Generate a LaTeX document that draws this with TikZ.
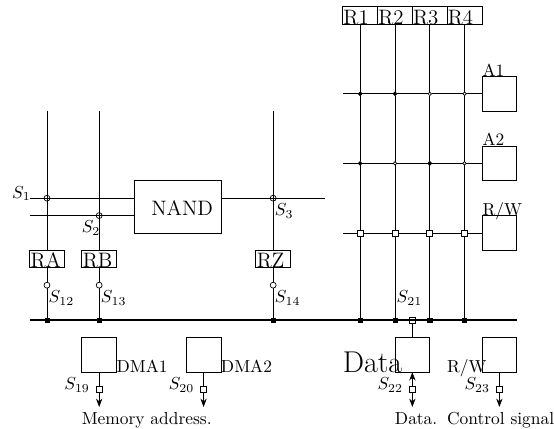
\documentclass[tikz,border=0pt]{standalone}
\usepackage{amsmath}
\usepackage{tikz}
\usetikzlibrary{arrows, arrows.meta}
\newcommand{\myunit}{20pt}
\tikzset{
  box/.style={draw, minimum size=\myunit, inner sep=0pt, outer sep=0pt},
  regbox/.style={draw, minimum width=\myunit, minimum height=0.5*\myunit, inner sep=0pt, outer sep=0pt},
  lab/.style={anchor=base west, inner sep=0pt, outer sep=0pt},
  biglab/.style={lab, font=\large},
  ring/.style={draw, circle, fill=white, minimum size=3.4pt, inner sep=0pt, outer sep=0pt},
  crossring/.style={draw, circle, minimum size=3.4pt, inner sep=0pt, outer sep=0pt},
  blackdot/.style={draw, circle, fill=black, minimum size=2.2pt, inner sep=0pt, outer sep=0pt},
  whitedot/.style={draw, circle, fill=white, minimum size=2pt, inner sep=0pt, outer sep=0pt},
  whitesq/.style={draw, fill=white, minimum size=3.4pt, inner sep=0pt, outer sep=0pt},
  opensq/.style={draw, minimum size=3.4pt, inner sep=0pt, outer sep=0pt},
  bussq/.style={draw, fill=black, minimum size=2.4pt, inner sep=0pt, outer sep=0pt},
  bus/.style={line width=1.4pt},
  tip/.style={-{Stealth[length=4.8pt, width=3.6pt]}},
  backtip/.style={{Stealth[length=4.8pt, width=3.6pt]}-}
}

\begin{document}
\begin{tikzpicture}[x=\myunit, y=\myunit]
  \useasboundingbox (-1.35,-3.13) rectangle (14.57,9.195);

  % Coordinates
  \coordinate (topA) at (0, 6);
  \coordinate (topB) at (1.5, 6);
  \coordinate (topZ) at (6.5, 6);
  \coordinate (inA) at (-0.5, 3.5);
  \coordinate (inB) at (-0.5, 3);
  \coordinate (outN) at (8, 3.5);
  \coordinate (busL) at (-0.5, 0);
  \coordinate (busR) at (13.5, 0);
  \coordinate (row1) at (8.5, 6.5);
  \coordinate (row2) at (8.5, 4.5);
  \coordinate (row3) at (8.5, 2.5);
  \coordinate (endM1) at (1.5, -2.5);
  \coordinate (endM2) at (4.5, -2.5);
  \coordinate (endD) at (10.5, -2.5);
  \coordinate (endC) at (13, -2.5);

  % Boxes
  \node[box] (NAND) at (3.75, 3.25) [minimum width=2.5*\myunit, minimum height=1.5*\myunit] {};
  \node[regbox] (RA) at (0, 1.75) {};
  \node[regbox] (RB) at (1.5, 1.75) {};
  \node[regbox] (RZ) at (6.5, 1.75) {};
  \node[regbox] (R1) at (9, 8.75) {};
  \node[regbox] (R2) at (10, 8.75) {};
  \node[regbox] (R3) at (11, 8.75) {};
  \node[regbox] (R4) at (12, 8.75) {};
  \node[box] (A1) at (13, 6.5) {};
  \node[box] (A2) at (13, 4.5) {};
  \node[box] (RW) at (13, 2.5) {};
  \node[box] (DMA1) at (1.5, -1) {};
  \node[box] (DMA2) at (4.5, -1) {};
  \node[box] (DATA) at (10.5, -1) {};
  \node[box] (CTRL) at (13, -1) {};

  % Switches
  \node[crossring] (c1) at (0, 3.5) {};
  \node[crossring] (c2) at (1.5, 3) {};
  \node[crossring] (c3) at (6.5, 3.5) {};
  \node[ring] (c12) at (0, 1) {};
  \node[ring] (c13) at (1.5, 1) {};
  \node[ring] (c14) at (6.5, 1) {};
  \node[blackdot] (d11) at (R1 |- row1) {};
  \node[blackdot] (d12) at (R2 |- row1) {};
  \node[whitedot] (d13) at (R3 |- row1) {};
  \node[whitedot] (d14) at (R4 |- row1) {};
  \node[blackdot] (d21) at (R1 |- row2) {};
  \node[whitedot] (d22) at (R2 |- row2) {};
  \node[blackdot] (d23) at (R3 |- row2) {};
  \node[whitedot] (d24) at (R4 |- row2) {};
  \node[whitesq] (d31) at (R1 |- row3) {};
  \node[whitesq] (d32) at (R2 |- row3) {};
  \node[whitesq] (d33) at (R3 |- row3) {};
  \node[whitesq] (d34) at (R4 |- row3) {};
  \node[whitesq] (s19) at (1.5, -2) {};
  \node[whitesq] (s20) at (4.5, -2) {};
  \node[whitesq] (s22) at (10.5, -2) {};
  \node[whitesq] (s23) at (13, -2) {};

  % Drawing
  \draw[bus] (busL) -- (busR);
  \node[bussq] (bA) at (RA |- busL) {};
  \node[bussq] (bB) at (RB |- busL) {};
  \node[bussq] (bZ) at (RZ |- busL) {};
  \node[bussq] (b1) at (R1 |- busL) {};
  \node[bussq] (b2) at (R2 |- busL) {};
  \node[bussq] (b3) at (R3 |- busL) {};
  \node[bussq] (b4) at (R4 |- busL) {};
  \node[opensq] (s21) at (10.5, 0) {};

  \draw (topA) -- (RA);
  \draw (topB) -- (RB);
  \draw (topZ) -- (RZ);
  \draw (RA) -- (c12) -- (bA);
  \draw (RB) -- (c13) -- (bB);
  \draw (RZ) -- (c14) -- (bZ);
  \draw (inA) -- (NAND.west |- inA);
  \draw (inB) -- (NAND.west |- inB);
  \draw (NAND.east |- outN) -- (outN);

  \draw (R1) -- (d11) -- (d21) -- (d31) -- (b1);
  \draw (R2) -- (d12) -- (d22) -- (d32) -- (b2);
  \draw (R3) -- (d13) -- (d23) -- (d33) -- (b3);
  \draw (R4) -- (d14) -- (d24) -- (d34) -- (b4);
  \draw (row1) -- (d11) -- (d12) -- (d13) -- (d14) -- (A1);
  \draw (row2) -- (d21) -- (d22) -- (d23) -- (d24) -- (A2);
  \draw (row3) -- (d31) -- (d32) -- (d33) -- (d34) -- (RW);

  \draw (s21) -- (DATA);
  \draw (DMA1) -- (s19);
  \draw (DMA2) -- (s20);
  \draw (CTRL) -- (s23);
  \draw[backtip] (DATA) -- (s22);
  \draw[tip] (s19) -- (endM1);
  \draw[tip] (s20) -- (endM2);
  \draw[tip] (s22) -- (endD);
  \draw[tip] (s23) -- (endC);

  % Labels
  \node[biglab] (tNAND) at (3, 3) {NAND};
  \node[biglab] (tRA) at (-0.47, 1.5) {RA};
  \node[biglab] (tRB) at (1.03, 1.5) {RB};
  \node[biglab] (tRZ) at (6.03, 1.5) {RZ};
  \node[biglab] (tR1) at (8.52, 8.5) {R1};
  \node[biglab] (tR2) at (9.52, 8.5) {R2};
  \node[biglab] (tR3) at (10.52, 8.5) {R3};
  \node[biglab] (tR4) at (11.52, 8.5) {R4};
  \node[lab] (tA1) at (12.52, 7) {A1};
  \node[lab] (tA2) at (12.52, 5) {A2};
  \node[lab] (tRW) at (12.52, 3) {R/W};
  \node[lab] (tS1) at (-1, 3.5) {$S_1$};
  \node[lab] (tS2) at (1, 2.5) {$S_2$};
  \node[lab] (tS3) at (6.55, 3) {$S_3$};
  \node[lab] (tS12) at (0.05, 0.5) {$S_{12}$};
  \node[lab] (tS13) at (1.55, 0.5) {$S_{13}$};
  \node[lab] (tS14) at (6.55, 0.5) {$S_{14}$};
  \node[lab] (tS21) at (10.05, 0.5) {$S_{21}$};
  \node[lab] (tS19) at (0.5, -2) {$S_{19}$};
  \node[lab] (tS20) at (3.5, -2) {$S_{20}$};
  \node[lab] (tS22) at (9.5, -2) {$S_{22}$};
  \node[lab] (tS23) at (12, -2) {$S_{23}$};
  \node[lab] (tDMA1) at (2, -1.5) {DMA1};
  \node[lab] (tDMA2) at (5, -1.5) {DMA2};
  \node[lab, font=\LARGE] (tData) at (8.5, -1.5) {Data};
  \node[lab] (tRW2) at (11.5, -1.5) {R/W};
  \node[lab] (tMem) at (1, -3) {Memory address.};
  \node[lab] (tDat) at (10, -3) {Data.};
  \node[lab] (tCtl) at (11.5, -3) {Control signal};
\end{tikzpicture}
\end{document}
